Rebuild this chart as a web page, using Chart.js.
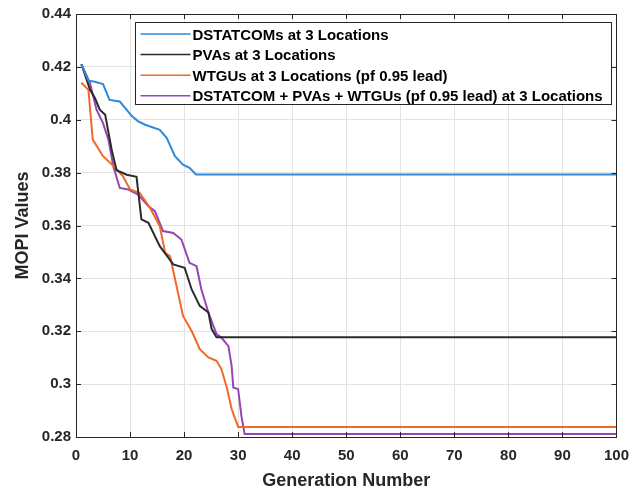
<!DOCTYPE html>
<html>
<head>
<meta charset="utf-8">
<script src="https://cdn.jsdelivr.net/npm/chart.js@4/dist/chart.umd.min.js"></script>
<style>
  html, body { margin: 0; padding: 0; background: #fff; }
  #wrap { width: 639px; height: 492px; }
</style>
</head>
<body>
<div id="wrap"><canvas id="mopiChart" width="639" height="492"></canvas></div>
<script>
// series labels
const seriesNames = [
    "DSTATCOMs at 3 Locations",
    "PVAs at 3 Locations",
    "WTGUs at 3 Locations (pf 0.95 lead)",
    "DSTATCOM + PVAs + WTGUs (pf 0.95 lead) at 3 Locations"
];
const seriesColors = ["#2e8ad8", "#2b2b2b", "#ee6a2c", "#9446b4"];

// generation numbers / MOPI values
const genDstatcom = [1, 2.3, 3.5, 5, 6.2, 8.1, 10.3, 11.5, 12.8, 15.5, 16.8, 18.3, 19.8, 21, 22.2, 100];
const mopiDstatcom = [0.421, 0.4148, 0.4144, 0.4135, 0.4075, 0.4069, 0.4015, 0.3994, 0.3981, 0.3962, 0.3931, 0.3862, 0.383, 0.3818, 0.3793, 0.3793];

const genPva = [1, 2.6, 3.5, 4.4, 5.4, 6.6, 7.5, 9.4, 11.2, 12.1, 13.4, 15.5, 18, 20.1, 21.4, 22.9, 24.5, 25.1, 26, 100];
const mopiPva = [0.421, 0.4113, 0.4082, 0.4038, 0.4019, 0.3887, 0.3809, 0.3792, 0.3784, 0.3623, 0.361, 0.3522, 0.3453, 0.344, 0.3358, 0.3296, 0.3271, 0.3208, 0.3177, 0.3177];

const genWtgu = [1, 2.3, 3.1, 5, 6.9, 8.7, 10, 11.8, 13.7, 15.5, 16.5, 17.4, 18.6, 19.8, 21.4, 22.9, 24.5, 26, 26.9, 27.9, 28.8, 30, 100];
const mopiWtgu = [0.414, 0.4113, 0.3925, 0.3862, 0.3826, 0.3786, 0.3736, 0.3723, 0.3667, 0.3597, 0.3497, 0.3484, 0.3371, 0.3258, 0.3201, 0.3132, 0.3101, 0.3088, 0.3057, 0.2987, 0.2906, 0.2838, 0.2838];

const genHybrid = [1, 2.6, 3.8, 5, 6, 6.9, 8.1, 9.7, 11.5, 13.4, 14.6, 16.1, 18, 19.5, 21, 22.3, 23.2, 24.5, 26, 26.9, 28.2, 28.8, 29.1, 30, 30.6, 31.2, 100];
const mopiHybrid = [0.421, 0.4138, 0.4038, 0.3987, 0.3925, 0.3824, 0.3742, 0.3736, 0.3717, 0.3673, 0.3654, 0.3579, 0.3572, 0.3547, 0.3459, 0.3446, 0.3358, 0.3271, 0.3189, 0.3176, 0.3144, 0.3068, 0.2987, 0.2981, 0.288, 0.2811, 0.2811];

const xTicks = [0, 10, 20, 30, 40, 50, 60, 70, 80, 90, 100];
const yTicks = [0.28, 0.3, 0.32, 0.34, 0.36, 0.38, 0.4, 0.42, 0.44];

const FONT = "'Liberation Sans', Arial, sans-serif";

function toPoints(xs, ys) {
    return xs.map((x, i) => ({ x: x, y: ys[i] }));
}

const allGens = [genDstatcom, genPva, genWtgu, genHybrid];
const allMopi = [mopiDstatcom, mopiPva, mopiWtgu, mopiHybrid];

const datasets = seriesNames.map((name, i) => ({
    label: name,
    data: toPoints(allGens[i], allMopi[i]),
    borderColor: seriesColors[i],
    backgroundColor: seriesColors[i],
    borderWidth: 2,
    pointRadius: 0,
    tension: 0,
    fill: false
}));

// box, inward ticks and the legend inside the axes, matlab style
const matlabFrame = {
    id: "matlabFrame",
    afterDatasetsDraw(chart) {
        const ctx = chart.ctx;
        const a = chart.chartArea;
        const xs = chart.scales.x, ys = chart.scales.y;
        ctx.save();
        ctx.strokeStyle = "#262626";
        ctx.lineWidth = 1;
        ctx.beginPath();
        xTicks.forEach(v => {
            const px = Math.round(xs.getPixelForValue(v)) + 0.5;
            ctx.moveTo(px, a.bottom); ctx.lineTo(px, a.bottom - 5);
            ctx.moveTo(px, a.top); ctx.lineTo(px, a.top + 5);
        });
        yTicks.forEach(v => {
            const py = Math.round(ys.getPixelForValue(v)) + 0.5;
            ctx.moveTo(a.left, py); ctx.lineTo(a.left + 5, py);
            ctx.moveTo(a.right, py); ctx.lineTo(a.right - 5, py);
        });
        ctx.stroke();
        ctx.strokeRect(Math.round(a.left) + 0.5, Math.round(a.top) + 0.5,
            Math.round(a.right - a.left), Math.round(a.bottom - a.top));

        // legend box
        const bx = 135.5, by = 22.5, bw = 476, bh = 82;
        ctx.fillStyle = "#fff";
        ctx.fillRect(bx, by, bw, bh);
        ctx.strokeStyle = "#262626";
        ctx.strokeRect(bx, by, bw, bh);
        ctx.font = "bold 15px " + FONT;
        ctx.textBaseline = "middle";
        chart.data.datasets.forEach((ds, i) => {
            const y = by + 11.5 + i * 20.6;
            ctx.strokeStyle = ds.borderColor;
            ctx.lineWidth = 1.5;
            ctx.beginPath();
            ctx.moveTo(bx + 5, y); ctx.lineTo(bx + 55, y);
            ctx.stroke();
            ctx.fillStyle = "#000";
            ctx.fillText(ds.label, bx + 57, y + 1.5);
        });
        ctx.restore();
    }
};

const chart = new Chart(document.getElementById("mopiChart").getContext("2d"), {
    type: "line",
    data: { datasets: datasets },
    options: {
        responsive: false,
        animation: false,
        layout: { padding: { left: 0, right: 22, top: 14, bottom: 0 } },
        plugins: {
            legend: { display: false },
            tooltip: { enabled: false }
        },
        scales: {
            x: {
                type: "linear",
                min: 0, max: 100,
                afterBuildTicks(scale) { scale.ticks = xTicks.map(v => ({ value: v })); },
                afterFit(scale) { scale.height = 55; },
                grid: { color: "#e3e3e3", drawTicks: false },
                border: { display: false },
                ticks: {
                    padding: 10,
                    color: "#262626",
                    font: { family: FONT, size: 15, weight: "bold" }
                },
                title: {
                    display: true,
                    text: "Generation Number",
                    color: "#262626",
                    padding: { top: 4, bottom: 0 },
                    font: { family: FONT, size: 18, weight: "bold" }
                }
            },
            y: {
                type: "linear",
                min: 0.28, max: 0.44,
                afterBuildTicks(scale) { scale.ticks = yTicks.map(v => ({ value: v })); },
                afterFit(scale) { scale.width = 76; },
                grid: { color: "#e3e3e3", drawTicks: false },
                border: { display: false },
                ticks: {
                    padding: 5,
                    color: "#262626",
                    font: { family: FONT, size: 15, weight: "bold" },
                    callback: v => String(Number(v.toFixed(2)))
                },
                title: {
                    display: true,
                    text: "MOPI Values",
                    color: "#262626",
                    padding: { top: 12, bottom: 0 },
                    font: { family: FONT, size: 18, weight: "bold" }
                }
            }
        }
    },
    plugins: [matlabFrame]
});
</script>
</body>
</html>
